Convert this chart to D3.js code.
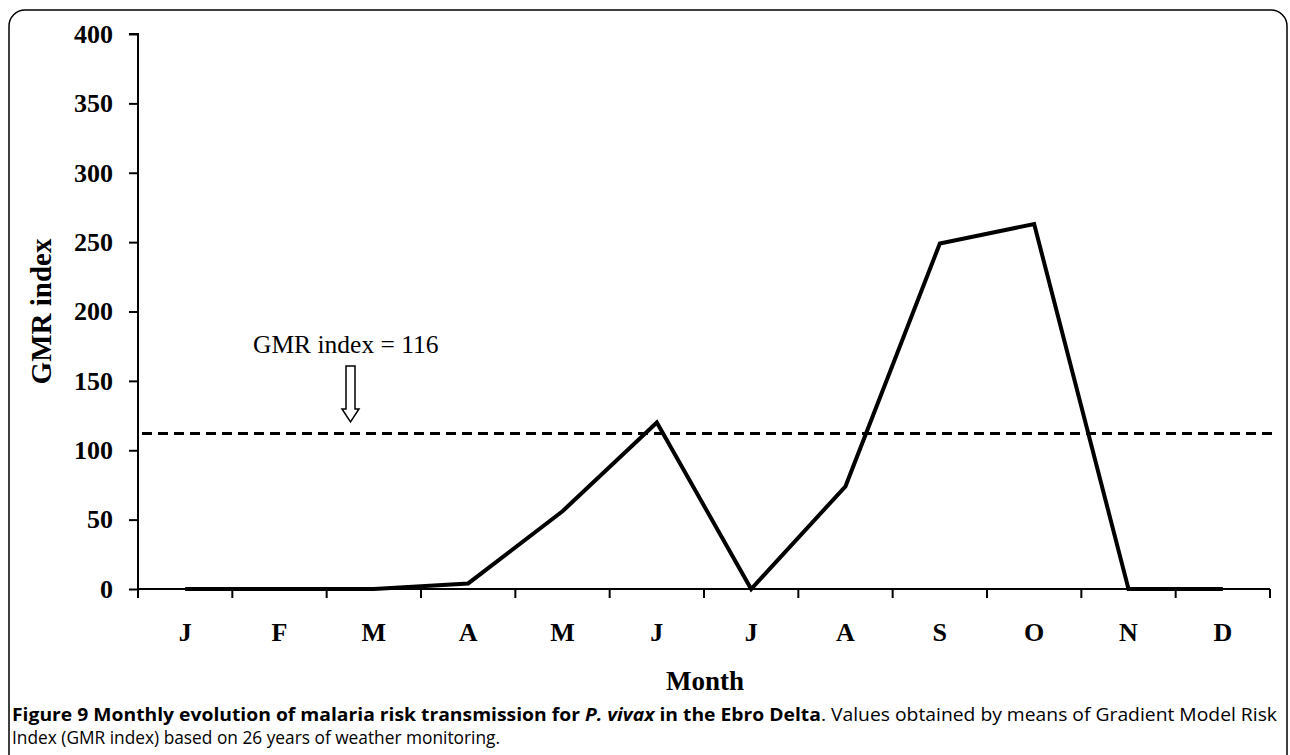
<!DOCTYPE html>
<html><head><meta charset="utf-8">
<script src="https://cdn.jsdelivr.net/npm/d3@7"></script>
<style>body{margin:0;background:#fff}svg{display:block}</style>
</head><body>
<svg id="c" width="1290" height="755"></svg>
<script>
const months = ["J","F","M","A","M","J","J","A","S","O","N","D"];
const gmr = [0,0,0,4,56,120,0,74,249,263,0,0];
const threshold = 112;
const thresholdLabel = "GMR index = 116";
const yTicks = [0,50,100,150,200,250,300,350,400];

const svg = d3.select("#c");
const L = 138, R = 1270, T = 34, B = 589;
const ids = months.map((d,i)=>i);
const x = d3.scaleBand().domain(ids).range([L,R]);
const y = d3.scaleLinear().domain([0,400]).range([B,T]);

// frame
svg.append("rect").attr("x",9).attr("y",10).attr("width",1278).attr("height",800)
  .attr("rx",16).attr("fill","none").attr("stroke","#000").attr("stroke-width",1.5);

const serif = "'Liberation Serif','Times New Roman',serif";

// y axis
const ya = svg.append("g").attr("transform",`translate(${L},0)`)
  .call(d3.axisLeft(y).tickValues(yTicks).tickSize(9).tickPadding(16));
ya.select(".domain").attr("stroke-width",2).attr("d",`M-9,${T}H0V${B}`);
ya.selectAll(".tick line").attr("stroke-width",2);
ya.selectAll("text").attr("font-family",serif).attr("font-weight","bold").attr("font-size",26).attr("fill","#000");

// x axis
const xa = svg.append("g").attr("transform",`translate(0,${B})`)
  .call(d3.axisBottom(x).tickFormat(i=>months[i]).tickSize(0).tickPadding(0));
xa.select(".domain").attr("stroke-width",2).attr("d",`M${L},0H${R}`);
xa.selectAll("text").attr("font-family",serif).attr("font-weight","bold").attr("font-size",26)
  .attr("fill","#000").attr("y",52).attr("dy",0);
const bounds = ids.map(i=>x(i)).concat([R]);
svg.append("g").selectAll("line").data(bounds).join("line")
  .attr("x1",d=>d).attr("x2",d=>d).attr("y1",B).attr("y2",B+9)
  .attr("stroke","#000").attr("stroke-width",2);

// axis titles
svg.append("text").attr("transform",`translate(51,${(T+B)/2}) rotate(-90)`)
  .attr("text-anchor","middle").attr("font-family",serif).attr("font-weight","bold")
  .attr("font-size",29).text("GMR index");
svg.append("text").attr("x",705).attr("y",690).attr("text-anchor","middle")
  .attr("font-family",serif).attr("font-weight","bold").attr("font-size",27).text("Month");

// threshold dashed line
svg.append("line").attr("x1",L+4).attr("x2",1275).attr("y1",y(threshold)).attr("y2",y(threshold))
  .attr("stroke","#000").attr("stroke-width",3).attr("stroke-dasharray","10,6");

// data line
const line = d3.line().x((d,i)=>x(i)+x.bandwidth()/2).y(d=>y(d));
svg.append("path").datum(gmr).attr("d",line).attr("fill","none")
  .attr("stroke","#000").attr("stroke-width",4).attr("stroke-linejoin","miter");

// annotation
svg.append("text").attr("x",253).attr("y",353)
  .attr("font-family",serif).attr("font-size",25.5).text(thresholdLabel);
const ax = 350.5, a0 = 366, a1 = 422;
svg.append("path").attr("d",`M${ax-4.5},${a0}H${ax+4.5}V${a1-13}H${ax+8.5}L${ax},${a1}L${ax-8.5},${a1-13}H${ax-4.5}Z`)
  .attr("fill","#fff").attr("stroke","#000").attr("stroke-width",1.5);

// caption
const sans = "'Open Sans','Noto Sans',sans-serif";
const cap = svg.append("text").attr("x",12).attr("y",721).attr("font-family",sans).attr("font-size",17.5)
  .attr("textLength",1265).attr("lengthAdjust","spacingAndGlyphs");
cap.append("tspan").attr("font-weight","bold").text("Figure 9 Monthly evolution of malaria risk transmission for ");
cap.append("tspan").attr("font-weight","bold").attr("font-style","italic").text("P. vivax");
cap.append("tspan").attr("font-weight","bold").text(" in the Ebro Delta");
cap.append("tspan").text(". Values obtained by means of Gradient Model Risk");
svg.append("text").attr("x",12).attr("y",744).attr("font-family",sans).attr("font-size",17.5)
  .attr("textLength",488).attr("lengthAdjust","spacingAndGlyphs")
  .text("Index (GMR index) based on 26 years of weather monitoring.");
</script>
</body></html>
